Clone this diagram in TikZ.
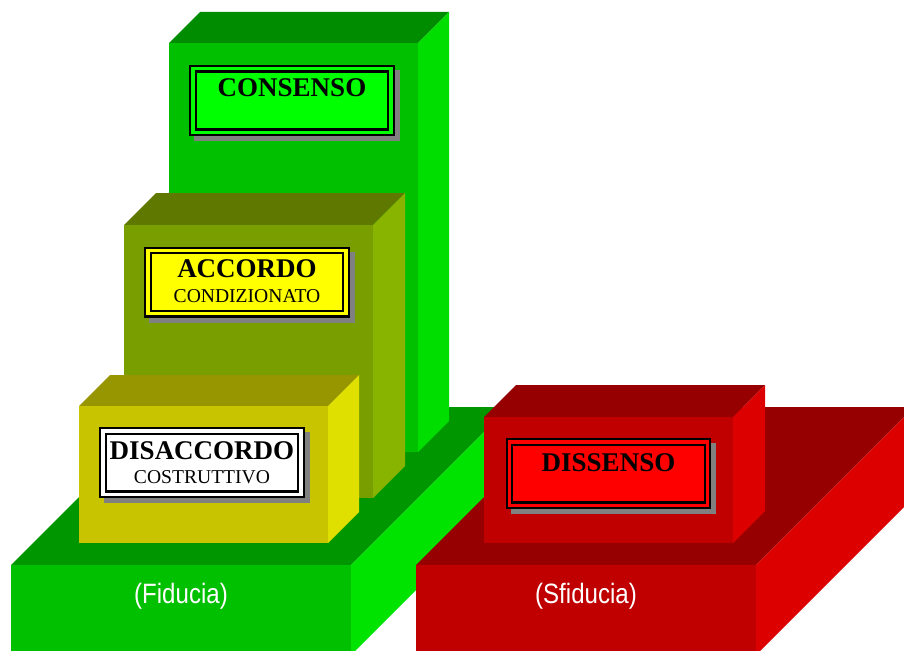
\documentclass[tikz,border=0pt]{standalone}
\usepackage{fontspec}
\setmainfont{Liberation Serif}
\newfontfamily\basefont[FakeStretch=0.86]{Liberation Sans}

% face colours: F = front, T = top, S = side
\definecolor{gbF}{RGB}{0,192,0}
\definecolor{gbT}{RGB}{0,150,0}
\definecolor{gbS}{RGB}{0,226,0}
\definecolor{rbF}{RGB}{192,0,0}
\definecolor{rbT}{RGB}{150,0,0}
\definecolor{rbS}{RGB}{220,0,0}
\definecolor{gtF}{RGB}{0,192,0}
\definecolor{gtT}{RGB}{0,140,0}
\definecolor{gtS}{RGB}{0,222,0}
\definecolor{olF}{RGB}{120,158,0}
\definecolor{olT}{RGB}{94,120,0}
\definecolor{olS}{RGB}{136,180,0}
\definecolor{yeF}{RGB}{200,196,0}
\definecolor{yeT}{RGB}{152,150,0}
\definecolor{yeS}{RGB}{224,224,0}
\definecolor{shadowgray}{RGB}{128,128,128}
\definecolor{tagGreen}{RGB}{0,255,0}
\definecolor{tagYellow}{RGB}{255,255,0}
\definecolor{tagRed}{RGB}{255,0,0}

% solid block: #1 x, #2 y (top front-left corner), #3 width, #4 height, #5 depth, #6 colour prefix
\newcommand\solidblock[6]{%
  \fill[#6T] (#1,#2) -- ++(#5,-#5) -- ++(#3,0) -- ++(-#5,#5) -- cycle;
  \fill[#6S] (#1,#2) ++(#3,0) -- ++(#5,-#5) -- ++(0,#4) -- ++(-#5,#5) -- cycle;
  \fill[#6F] (#1,#2) rectangle ++(#3,#4);
}

\tikzset{
  tagbox/.style={draw=black, fill=#1, line width=2.1pt, double=#1, double distance=3.4pt,
    rectangle, inner sep=0pt, minimum width=198pt, minimum height=63.4pt},
  tagshadow/.style={fill=shadowgray, rectangle, inner sep=0pt,
    minimum width=205.6pt, minimum height=71pt},
  bigword/.style={anchor=base, inner sep=0pt, font=\fontsize{27}{30}\selectfont\bfseries},
  smallword/.style={anchor=base, inner sep=0pt, font=\fontsize{19.6}{22}\selectfont},
  baseword/.style={anchor=base, inner sep=0pt, text=white, font=\basefont\fontsize{28}{32}\selectfont},
}

\begin{document}
\begin{tikzpicture}[x=1pt, y=-1pt]
\useasboundingbox (0,0) rectangle (904,650);
\begin{scope}
\clip (0,0) rectangle (904,650);

% bases
\solidblock{11}{565}{340}{90}{158}{gb}
\solidblock{416}{565}{340}{90}{158}{rb}

% towers on the green base
\solidblock{169}{43}{249}{409}{31}{gt}
\solidblock{124}{225}{249}{273}{32}{ol}
\solidblock{79}{406}{249}{137}{31}{ye}

% block on the red base
\solidblock{484}{417}{249}{126}{32}{rb}
\end{scope}

% labels
\node[tagshadow] (consensoS) at (297,105.5) {};
\node[tagbox=tagGreen] (consenso) at (292,100.5) {};
\node[bigword] (consensoT) at (292,97) {CONSENSO};

\node[tagshadow] (accordoS) at (252,287) {};
\node[tagbox=tagYellow] (accordo) at (247,282) {};
\node[bigword] (accordoT) at (247,277) {ACCORDO};
\node[smallword] (accordoU) at (247,302) {CONDIZIONATO};

\node[tagshadow] (disaccordoS) at (207,467.5) {};
\node[tagbox=white] (disaccordo) at (202,462.5) {};
\node[bigword] (disaccordoT) at (202,459) {DISACCORDO};
\node[smallword] (disaccordoU) at (202,483) {COSTRUTTIVO};

\node[tagshadow] (dissensoS) at (613.5,478.5) {};
\node[tagbox=tagRed] (dissenso) at (608.5,473.5) {};
\node[bigword] (dissensoT) at (608.5,471) {DISSENSO};

% base captions
\node[baseword] (fiducia) at (181,603) {(Fiducia)};
\node[baseword] (sfiducia) at (586,603) {(Sfiducia)};
\end{tikzpicture}
\end{document}
